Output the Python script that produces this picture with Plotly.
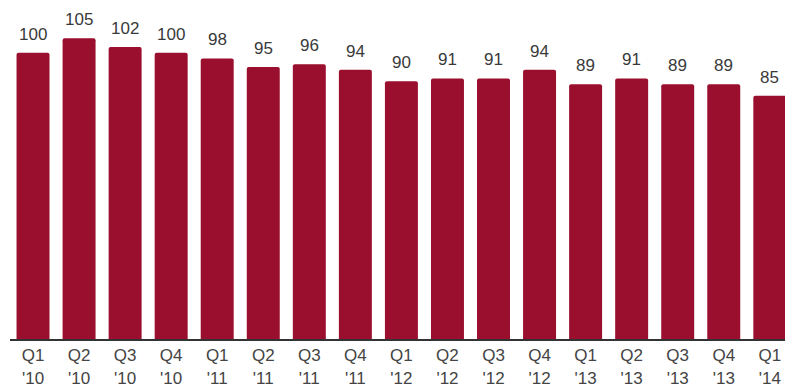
import plotly.graph_objects as go

quarters = ["Q1", "Q2", "Q3", "Q4", "Q1", "Q2", "Q3", "Q4", "Q1", "Q2", "Q3", "Q4",
            "Q1", "Q2", "Q3", "Q4", "Q1"]
years = ["'10", "'10", "'10", "'10", "'11", "'11", "'11", "'11", "'12", "'12", "'12", "'12",
         "'13", "'13", "'13", "'13", "'14"]
values = [100, 105, 102, 100, 98, 95, 96, 94, 90, 91, 91, 94, 89, 91, 89, 89, 85]

tick_text = [f"{q}<br>{y}" for q, y in zip(quarters, years)]
xs = list(range(len(values)))

BAR_COLOR = "#9b0f2e"
FONT = "Arial, Liberation Sans, sans-serif"

fig = go.Figure()
fig.add_trace(go.Bar(
    x=xs, y=values,
    marker=dict(color=BAR_COLOR, line=dict(width=0), cornerradius=2),
    hoverinfo="skip",
))

for x, v in zip(xs, values):
    fig.add_annotation(x=x, y=v, text=str(v), showarrow=False,
                       yanchor="bottom", yshift=7,
                       font=dict(family=FONT, size=17, color="#3a3a3a"))

fig.update_layout(
    width=785, height=388,
    margin=dict(l=9.5, r=0, t=0, b=49),
    paper_bgcolor="white", plot_bgcolor="white",
    bargap=0.284,
    showlegend=False,
    xaxis=dict(
        tickmode="array", tickvals=xs, ticktext=tick_text,
        range=[-0.5, 16.33],
        showgrid=False, zeroline=False,
        showline=True, linecolor="#333333", linewidth=2,
        ticks="", tickangle=0,
        tickfont=dict(family=FONT, size=17, color="#444444"),
    ),
    yaxis=dict(range=[0, 118.4], visible=False, showgrid=False, zeroline=False),
)

fig.write_html("out.html")
